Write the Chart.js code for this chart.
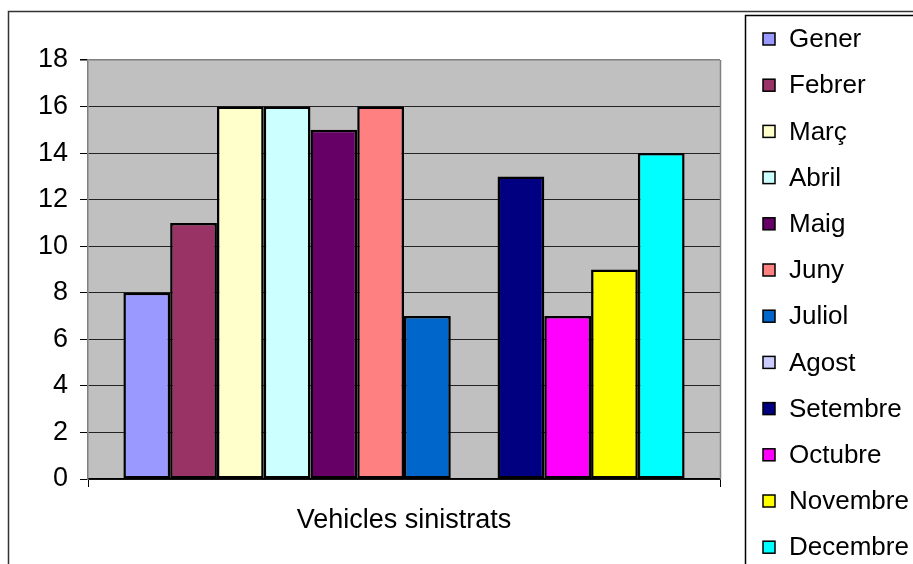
<!DOCTYPE html>
<html>
<head>
<meta charset="utf-8">
<script src="https://cdn.jsdelivr.net/npm/chart.js@4/dist/chart.umd.min.js"></script>
<style>
  html, body { margin: 0; padding: 0; background: #fff; }
  #wrap { width: 913px; height: 564px; position: relative; }
</style>
</head>
<body>
<div id="wrap"><canvas id="chart" width="913" height="564"></canvas></div>
<script>
// Vehicles sinistrats per mes

const categories = ['Vehicles sinistrats'];
const months = ['Gener', 'Febrer', 'Març', 'Abril', 'Maig', 'Juny', 'Juliol',
                'Agost', 'Setembre', 'Octubre', 'Novembre', 'Decembre'];
const values = [8, 11, 16, 16, 15, 16, 7, 0, 13, 7, 9, 14];
const colors = ['#9999FF', '#993366', '#FFFFCC', '#CCFFFF', '#660066', '#FF8080',
                '#0066CC', '#CCCCFF', '#000080', '#FF00FF', '#FFFF00', '#00FFFF'];
const yTicks = [0, 2, 4, 6, 8, 10, 12, 14, 16, 18];

Chart.defaults.font.family = '"Liberation Sans", Arial, sans-serif';
Chart.defaults.font.size = 27;
Chart.defaults.color = '#000';

const frame = {
    id: 'frame',
    beforeDraw(chart) {
        const c = chart.ctx, a = chart.chartArea;
        c.save();
        c.fillStyle = '#fff';
        c.fillRect(0, 0, chart.width, chart.height);
        c.fillStyle = '#C0C0C0';
        c.fillRect(a.left, a.top, a.right - a.left, a.bottom - a.top);
        // outer chart border
        c.strokeStyle = '#333';
        c.lineWidth = 1.5;
        c.strokeRect(8.5, 11.5, 1200, 1200);
        c.restore();
    },
    afterDraw(chart) {
        const c = chart.ctx, a = chart.chartArea;
        c.save();
        // gray plot frame on right
        c.strokeStyle = '#808080';
        c.lineWidth = 1.5;
        c.beginPath();
        c.moveTo(a.right + 0.5, a.top);
        c.lineTo(a.right + 0.5, a.bottom);
        c.stroke();
        // legend
        const lx = 745, ly = 15;
        c.strokeStyle = '#000';
        c.lineWidth = 1.5;
        c.strokeRect(lx + 0.5, ly + 0.5, 400, 800);
        c.font = '26px "Liberation Sans", Arial, sans-serif';
        c.textBaseline = 'middle';
        chart.data.datasets.forEach((ds, i) => {
            const cy = 39 + i * 46.2;
            c.fillStyle = ds.backgroundColor;
            c.fillRect(763, cy - 6, 12, 12);
            c.lineWidth = 1.5;
            c.strokeStyle = '#000';
            c.strokeRect(763, cy - 6, 12, 12);
            c.fillStyle = '#000';
            c.fillText(ds.label, 789, cy + 1);
        });
        c.restore();
    }
};

const datasets = months.map((m, i) => ({
    label: m,
    data: [values[i]],
    backgroundColor: colors[i],
    borderColor: '#000',
    borderWidth: 2.5,
    borderSkipped: false,
    categoryPercentage: 0.888,
    barPercentage: 1
}));

new Chart(document.getElementById('chart'), {
    type: 'bar',
    data: { labels: categories, datasets: datasets },
    options: {
        responsive: false,
        animation: false,
        layout: { padding: { left: 8, right: 193, top: 60, bottom: 0 } },
        plugins: { legend: { display: false }, tooltip: { enabled: false } },
        scales: {
            x: {
                afterFit: s => { s.height = 85; },
                grid: {
                    display: true,
                    drawOnChartArea: false,
                    offset: true,
                    tickLength: 8,
                    color: '#000'
                },
                border: { color: '#000', width: 1.5 },
                ticks: { padding: 17, color: '#000', font: { size: 27 } }
            },
            y: {
                min: 0,
                max: 18,
                afterFit: s => { s.width = 80; },
                afterBuildTicks: s => { s.ticks = yTicks.map(v => ({ value: v })); },
                grid: {
                    color: ctx => ctx.tick && ctx.tick.value === 18 ? '#808080' : '#222',
                    tickColor: '#000',
                    tickLength: 8,
                    lineWidth: ctx => ctx.tick && ctx.tick.value === 18 ? 1.5 : 1
                },
                border: { color: '#808080', width: 1.5 },
                ticks: { padding: 12, color: '#000', font: { size: 27 } }
            }
        }
    },
    plugins: [frame]
});
</script>
</body>
</html>
